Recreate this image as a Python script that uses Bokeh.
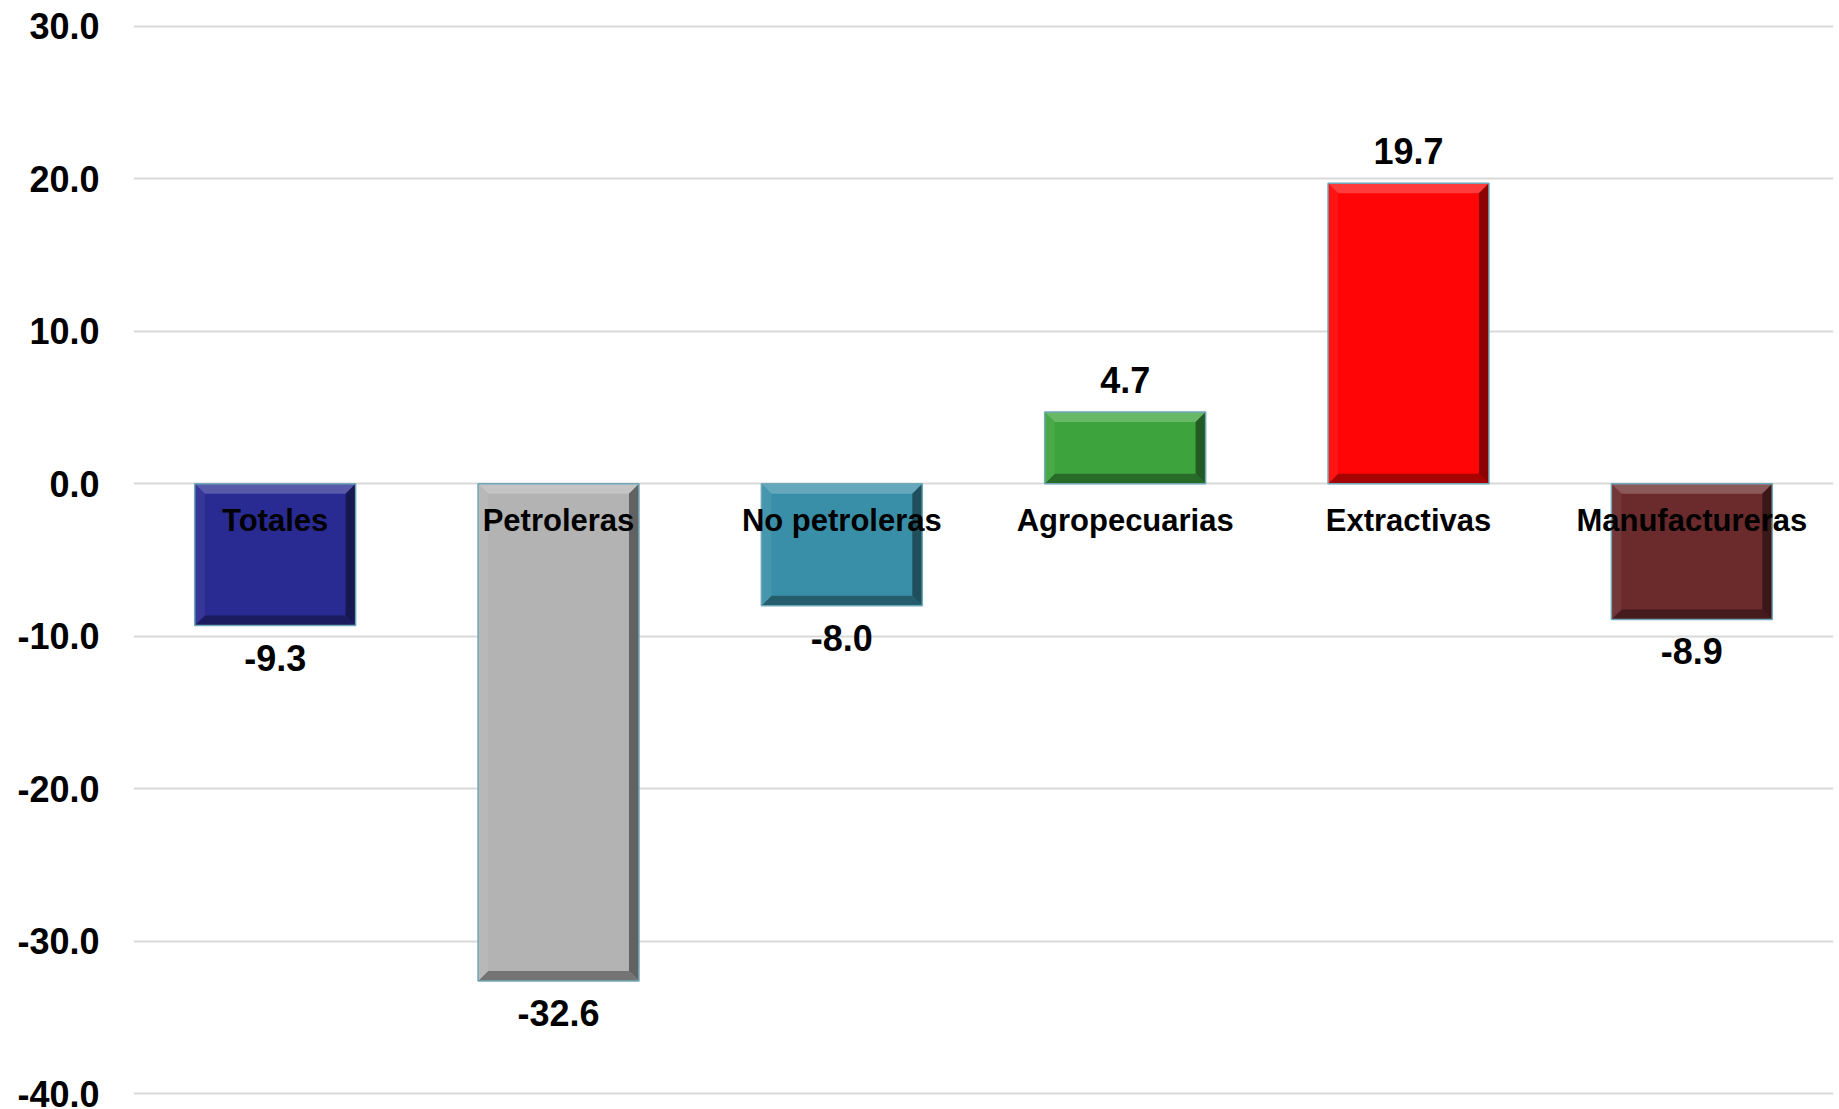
import numpy as np
from bokeh.plotting import figure
from bokeh.models import Range1d, FixedTicker, NumeralTickFormatter
from bokeh.embed import file_html
from bokeh.resources import INLINE
from bokeh.core.properties import value

# ---- data ----
categories = ["Totales", "Petroleras", "No petroleras", "Agropecuarias", "Extractivas", "Manufactureras"]
values = [-9.3, -32.6, -8.0, 4.7, 19.7, -8.9]
colors = ["#2A2A93", "#B3B3B3", "#3A8FA8", "#3DA43D", "#FF0505", "#6B2A2C"]
y_ticks = [30, 20, 10, 0, -10, -20, -30, -40]
value_labels = ["%.1f" % v for v in values]

FONT = value("Liberation Sans")


def mix(hex_color, other, t):
    h = hex_color.lstrip("#")
    c = np.array([int(h[i:i + 2], 16) for i in (0, 2, 4)], dtype=float)
    o = np.array(other, dtype=float)
    m = c * (1 - t) + o * t
    return "#%02x%02x%02x" % tuple(int(round(x)) for x in m)


p = figure(width=1836, height=1109, output_backend="svg", toolbar_location=None,
           x_range=Range1d(-0.5, 5.5), y_range=Range1d(-40.5, 30.5),
           min_border_left=133, min_border_right=3, min_border_top=18, min_border_bottom=8,
           background_fill_color="white", border_fill_color="white")
p.outline_line_color = None
p.xaxis.visible = False
p.xgrid.visible = False

yax = p.yaxis[0]
yax.ticker = FixedTicker(ticks=y_ticks)
yax.formatter = NumeralTickFormatter(format="0.0")
yax.axis_line_color = None
yax.major_tick_line_color = None
yax.minor_tick_line_color = None
yax.major_tick_out = 0
yax.major_tick_in = 0
yax.major_label_standoff = 34
yax.major_label_text_font = "Liberation Sans"
yax.major_label_text_font_style = "bold"
yax.major_label_text_font_size = "36px"
yax.major_label_text_color = "black"

p.ygrid.ticker = FixedTicker(ticks=y_ticks)
p.ygrid.grid_line_color = "#D9D9D9"
p.ygrid.grid_line_width = 2

# ---- bars ----
x = np.arange(len(categories), dtype=float)
v = np.array(values)
w = 0.568
left = x - w / 2
right = x + w / 2
top = np.maximum(v, 0)
bottom = np.minimum(v, 0)

px_per_x = 283.4
px_per_y = 15.25
dx = 10 / px_per_x
dy = 10 / px_per_y

p.quad(left=left, right=right, top=top, bottom=bottom, fill_color=colors, line_color=None)

xs, ys, pc = [], [], []
for l, r, t, b, c in zip(left, right, top, bottom, colors):
    ddy = min(dy, (t - b) / 2)
    # top
    xs.append([l, r, r - dx, l + dx]); ys.append([t, t, t - ddy, t - ddy]); pc.append(mix(c, (255, 255, 255), 0.22))
    # bottom
    xs.append([l, r, r - dx, l + dx]); ys.append([b, b, b + ddy, b + ddy]); pc.append(mix(c, (0, 0, 0), 0.35))
    # left
    xs.append([l, l + dx, l + dx, l]); ys.append([t, t - ddy, b + ddy, b]); pc.append(mix(c, (255, 255, 255), 0.06))
    # right
    xs.append([r, r - dx, r - dx, r]); ys.append([t, t - ddy, b + ddy, b]); pc.append(mix(c, (0, 0, 0), 0.45))
p.patches(xs=xs, ys=ys, fill_color=pc, line_color=None)

p.quad(left=left, right=right, top=top, bottom=bottom, fill_color=None,
       line_color="#6FA8B8", line_width=1.5)

# ---- value labels ----
off = 32 / px_per_y
label_y = np.where(v >= 0, v + off, v - off)
p.text(x=x, y=label_y, text=value_labels, text_align="center", text_baseline="middle",
       text_font=FONT, text_font_style="bold", text_font_size="36px", text_color="black")

# ---- category labels ----
cat_y = np.full(len(categories), -37 / px_per_y)
p.text(x=x, y=cat_y, text=categories, text_align="center", text_baseline="middle",
       text_font=FONT, text_font_style="bold", text_font_size="31px", text_color="black")

open("out.html", "w").write(file_html(p, INLINE))
